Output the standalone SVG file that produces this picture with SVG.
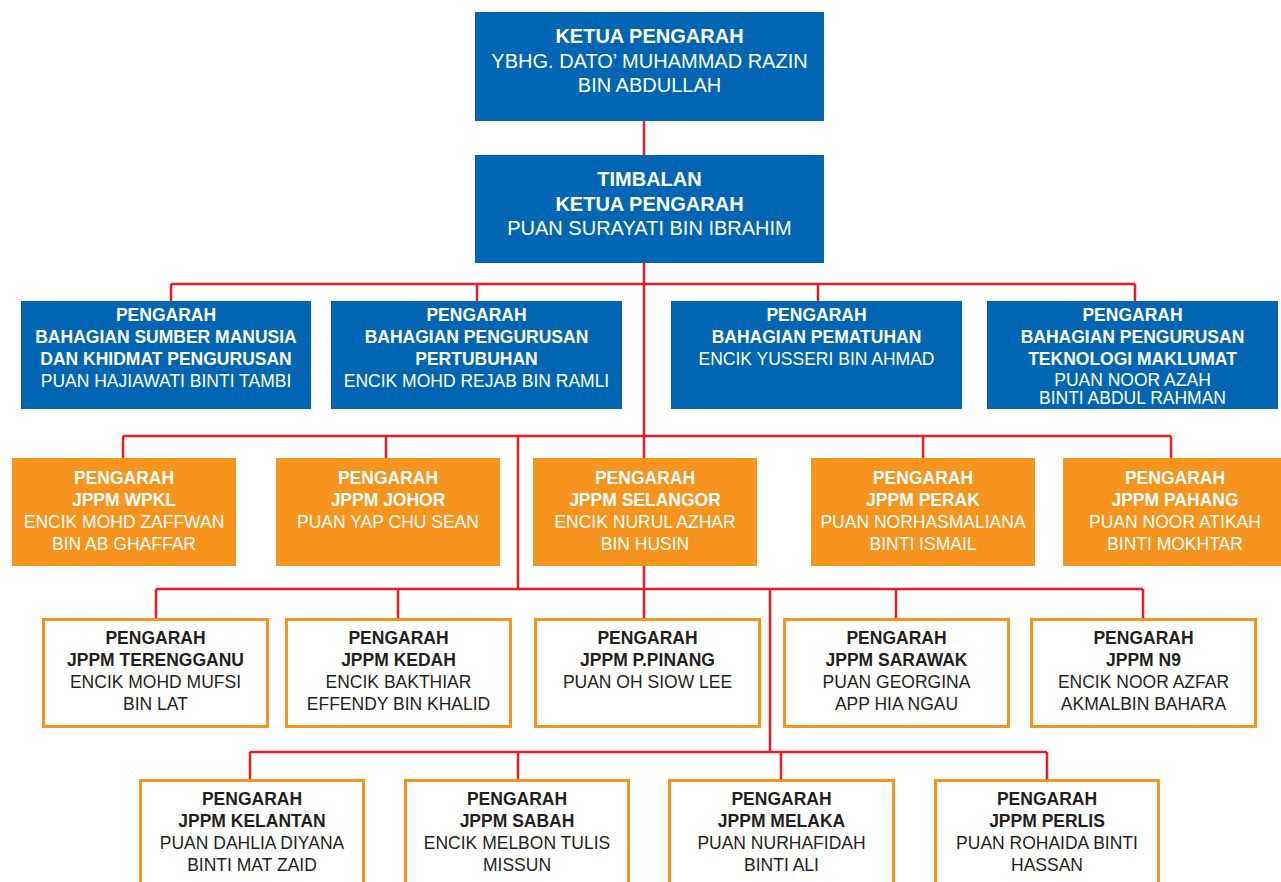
<svg xmlns="http://www.w3.org/2000/svg" width="1281" height="882" viewBox="0 0 1281 882">
<style>
.blue{fill:#0066b3}
.org{fill:#f7941d}
.wht{fill:#ffffff;stroke:#f7941d;stroke-width:3}
text{font-family:"Liberation Sans",Arial,sans-serif;text-anchor:middle;font-size:17.5px}
.lt{fill:#ffffff}
.dk{fill:#231f20}
.b{font-weight:bold}
.big{font-size:20px}
.con line{stroke:#ed1c24;stroke-width:2.5;fill:none}
</style>
<rect width="1281" height="882" fill="#ffffff"/>
<g class="con" id="connectors">
<line x1="644" y1="121" x2="644" y2="155"/>
<line x1="644" y1="263" x2="644" y2="618"/>
<line x1="171" y1="284" x2="1135" y2="284"/>
<line x1="171" y1="284" x2="171" y2="301"/>
<line x1="477" y1="284" x2="477" y2="301"/>
<line x1="818" y1="284" x2="818" y2="301"/>
<line x1="1135" y1="284" x2="1135" y2="301"/>
<line x1="123" y1="436" x2="1171" y2="436"/>
<line x1="123" y1="436" x2="123" y2="458"/>
<line x1="386" y1="436" x2="386" y2="458"/>
<line x1="923" y1="436" x2="923" y2="458"/>
<line x1="1171" y1="436" x2="1171" y2="458"/>
<line x1="518" y1="436" x2="518" y2="589"/>
<line x1="156" y1="589" x2="1143" y2="589"/>
<line x1="156" y1="589" x2="156" y2="618"/>
<line x1="398" y1="589" x2="398" y2="618"/>
<line x1="896" y1="589" x2="896" y2="618"/>
<line x1="1143" y1="589" x2="1143" y2="618"/>
<line x1="770" y1="589" x2="770" y2="752"/>
<line x1="250" y1="752" x2="1047" y2="752"/>
<line x1="250" y1="752" x2="250" y2="779"/>
<line x1="518" y1="752" x2="518" y2="779"/>
<line x1="781" y1="752" x2="781" y2="779"/>
<line x1="1047" y1="752" x2="1047" y2="779"/>
</g>
<g id="ketua">
<rect class="blue" x="475" y="12" width="349" height="109"/>
<text class="lt b big" x="649.5" y="43">KETUA PENGARAH</text>
<text class="lt big" x="649.5" y="68">YBHG. DATO’ MUHAMMAD RAZIN</text>
<text class="lt big" x="649.5" y="92">BIN ABDULLAH</text>
</g>
<g id="timbalan">
<rect class="blue" x="475" y="155" width="349" height="108"/>
<text class="lt b big" x="649.5" y="186">TIMBALAN</text>
<text class="lt b big" x="649.5" y="211">KETUA PENGARAH</text>
<text class="lt big" x="649.5" y="235">PUAN SURAYATI BIN IBRAHIM</text>
</g>
<g id="bsm">
<rect class="blue" x="21" y="301" width="290" height="108"/>
<text class="lt b" x="166" y="321">PENGARAH</text>
<text class="lt b" x="166" y="343">BAHAGIAN SUMBER MANUSIA</text>
<text class="lt b" x="166" y="365">DAN KHIDMAT PENGURUSAN</text>
<text class="lt" x="166" y="387">PUAN HAJIAWATI BINTI TAMBI</text>
</g>
<g id="bpp">
<rect class="blue" x="331" y="301" width="291" height="108"/>
<text class="lt b" x="476.5" y="321">PENGARAH</text>
<text class="lt b" x="476.5" y="343">BAHAGIAN PENGURUSAN</text>
<text class="lt b" x="476.5" y="365">PERTUBUHAN</text>
<text class="lt" x="476.5" y="387">ENCIK MOHD REJAB BIN RAMLI</text>
</g>
<g id="bp">
<rect class="blue" x="671" y="301" width="291" height="108"/>
<text class="lt b" x="816.5" y="321">PENGARAH</text>
<text class="lt b" x="816.5" y="343">BAHAGIAN PEMATUHAN</text>
<text class="lt" x="816.5" y="365">ENCIK YUSSERI BIN AHMAD</text>
</g>
<g id="bptm">
<rect class="blue" x="987" y="301" width="291" height="108"/>
<text class="lt b" x="1132.5" y="321">PENGARAH</text>
<text class="lt b" x="1132.5" y="343">BAHAGIAN PENGURUSAN</text>
<text class="lt b" x="1132.5" y="365">TEKNOLOGI MAKLUMAT</text>
<text class="lt" x="1132.5" y="386">PUAN NOOR AZAH</text>
<text class="lt" x="1132.5" y="404">BINTI ABDUL RAHMAN</text>
</g>
<g id="wpkl">
<rect class="org" x="12" y="458" width="224" height="108"/>
<text class="lt b" x="124" y="484">PENGARAH</text>
<text class="lt b" x="124" y="506">JPPM WPKL</text>
<text class="lt" x="124" y="528">ENCIK MOHD ZAFFWAN</text>
<text class="lt" x="124" y="550">BIN AB GHAFFAR</text>
</g>
<g id="johor">
<rect class="org" x="276" y="458" width="224" height="108"/>
<text class="lt b" x="388" y="484">PENGARAH</text>
<text class="lt b" x="388" y="506">JPPM JOHOR</text>
<text class="lt" x="388" y="528">PUAN YAP CHU SEAN</text>
</g>
<g id="selangor">
<rect class="org" x="533" y="458" width="224" height="108"/>
<text class="lt b" x="645" y="484">PENGARAH</text>
<text class="lt b" x="645" y="506">JPPM SELANGOR</text>
<text class="lt" x="645" y="528">ENCIK NURUL AZHAR</text>
<text class="lt" x="645" y="550">BIN HUSIN</text>
</g>
<g id="perak">
<rect class="org" x="811" y="458" width="224" height="108"/>
<text class="lt b" x="923" y="484">PENGARAH</text>
<text class="lt b" x="923" y="506">JPPM PERAK</text>
<text class="lt" x="923" y="528">PUAN NORHASMALIANA</text>
<text class="lt" x="923" y="550">BINTI ISMAIL</text>
</g>
<g id="pahang">
<rect class="org" x="1063" y="458" width="224" height="108"/>
<text class="lt b" x="1175" y="484">PENGARAH</text>
<text class="lt b" x="1175" y="506">JPPM PAHANG</text>
<text class="lt" x="1175" y="528">PUAN NOOR ATIKAH</text>
<text class="lt" x="1175" y="550">BINTI MOKHTAR</text>
</g>
<g id="terengganu">
<rect class="wht" x="43.5" y="619.5" width="224" height="107"/>
<text class="dk b" x="155.5" y="644">PENGARAH</text>
<text class="dk b" x="155.5" y="666">JPPM TERENGGANU</text>
<text class="dk" x="155.5" y="688">ENCIK MOHD MUFSI</text>
<text class="dk" x="155.5" y="710">BIN LAT</text>
</g>
<g id="kedah">
<rect class="wht" x="286.5" y="619.5" width="224" height="107"/>
<text class="dk b" x="398.5" y="644">PENGARAH</text>
<text class="dk b" x="398.5" y="666">JPPM KEDAH</text>
<text class="dk" x="398.5" y="688">ENCIK BAKTHIAR</text>
<text class="dk" x="398.5" y="710">EFFENDY BIN KHALID</text>
</g>
<g id="pinang">
<rect class="wht" x="535.5" y="619.5" width="224" height="107"/>
<text class="dk b" x="647.5" y="644">PENGARAH</text>
<text class="dk b" x="647.5" y="666">JPPM P.PINANG</text>
<text class="dk" x="647.5" y="688">PUAN OH SIOW LEE</text>
</g>
<g id="sarawak">
<rect class="wht" x="784.5" y="619.5" width="224" height="107"/>
<text class="dk b" x="896.5" y="644">PENGARAH</text>
<text class="dk b" x="896.5" y="666">JPPM SARAWAK</text>
<text class="dk" x="896.5" y="688">PUAN GEORGINA</text>
<text class="dk" x="896.5" y="710">APP HIA NGAU</text>
</g>
<g id="n9">
<rect class="wht" x="1031.5" y="619.5" width="224" height="107"/>
<text class="dk b" x="1143.5" y="644">PENGARAH</text>
<text class="dk b" x="1143.5" y="666">JPPM N9</text>
<text class="dk" x="1143.5" y="688">ENCIK NOOR AZFAR</text>
<text class="dk" x="1143.5" y="710">AKMALBIN BAHARA</text>
</g>
<g id="kelantan">
<rect class="wht" x="140.5" y="780.5" width="223" height="120"/>
<text class="dk b" x="252" y="805">PENGARAH</text>
<text class="dk b" x="252" y="827">JPPM KELANTAN</text>
<text class="dk" x="252" y="849">PUAN DAHLIA DIYANA</text>
<text class="dk" x="252" y="871">BINTI MAT ZAID</text>
</g>
<g id="sabah">
<rect class="wht" x="405.5" y="780.5" width="223" height="120"/>
<text class="dk b" x="517" y="805">PENGARAH</text>
<text class="dk b" x="517" y="827">JPPM SABAH</text>
<text class="dk" x="517" y="849">ENCIK MELBON TULIS</text>
<text class="dk" x="517" y="871">MISSUN</text>
</g>
<g id="melaka">
<rect class="wht" x="669.5" y="780.5" width="224" height="120"/>
<text class="dk b" x="781.5" y="805">PENGARAH</text>
<text class="dk b" x="781.5" y="827">JPPM MELAKA</text>
<text class="dk" x="781.5" y="849">PUAN NURHAFIDAH</text>
<text class="dk" x="781.5" y="871">BINTI ALI</text>
</g>
<g id="perlis">
<rect class="wht" x="935.5" y="780.5" width="223" height="120"/>
<text class="dk b" x="1047" y="805">PENGARAH</text>
<text class="dk b" x="1047" y="827">JPPM PERLIS</text>
<text class="dk" x="1047" y="849">PUAN ROHAIDA BINTI</text>
<text class="dk" x="1047" y="871">HASSAN</text>
</g>
</svg>
